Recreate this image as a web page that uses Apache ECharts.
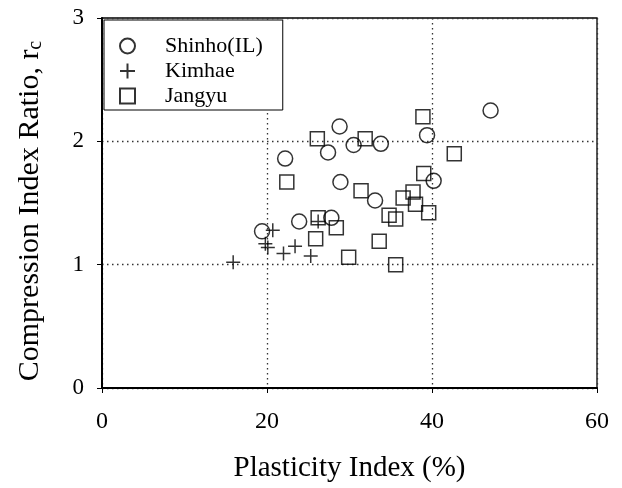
<!DOCTYPE html>
<html>
<head>
<meta charset="utf-8">
<script src="https://cdn.jsdelivr.net/npm/echarts@6/dist/echarts.min.js"></script>
<style>html,body{margin:0;padding:0;background:#fff}#c{width:622px;height:488px}</style>
</head>
<body>
<div id="c"></div>
<script>
var xTicks = [0, 20, 40, 60];
var yTicks = [0, 1, 2, 3];

var shinhoPI = [47.1, 28.8, 39.4, 30.5, 33.8, 27.4, 22.2, 28.9, 40.2, 33.1, 23.9, 27.8, 19.4];
var shinhoRc = [2.25, 2.12, 2.05, 1.97, 1.98, 1.91, 1.86, 1.67, 1.68, 1.52, 1.35, 1.38, 1.27];

var kimhaePI = [20.7, 19.8, 20.1, 22.0, 23.4, 25.3, 15.9, 26.2];
var kimhaeRc = [1.28, 1.17, 1.14, 1.09, 1.15, 1.07, 1.02, 1.35];

var jangyuPI = [38.9, 26.1, 31.9, 42.7, 22.4, 39.0, 31.4, 37.7, 36.5, 38.0, 39.6, 34.8, 35.6, 26.2, 28.4, 25.9, 33.6, 29.9, 35.6];
var jangyuRc = [2.20, 2.02, 2.02, 1.90, 1.67, 1.74, 1.60, 1.59, 1.54, 1.49, 1.42, 1.40, 1.37, 1.38, 1.30, 1.21, 1.19, 1.06, 1.00];

function pairs(xs, ys) { return xs.map(function (x, i) { return [x, ys[i]]; }); }

var FONT = '"Liberation Serif", "Times New Roman", serif';
var markStyle = { color: 'rgba(0,0,0,0)', borderColor: '#000', borderWidth: 1.5 };

var chart = echarts.init(document.getElementById('c'), null, { renderer: 'canvas' });
chart.setOption({
  animation: false,
  backgroundColor: '#fff',
  grid: { left: 102, right: 25, top: 18, bottom: 99, show: true, borderColor: '#000', borderWidth: 1.3, backgroundColor: 'transparent' },
  legend: {
    orient: 'vertical', left: 104, top: 20,
    backgroundColor: '#fff', borderColor: '#000', borderWidth: 1,
    padding: [15, 20, 3, 15],
    itemWidth: 15, itemHeight: 15, itemGap: 3,
    textStyle: { fontFamily: FONT, fontSize: 22, color: '#000', padding: [0, 0, 0, 25], lineHeight: 22 },
    data: ['Shinho(IL)', 'Kimhae', 'Jangyu']
  },
  xAxis: {
    type: 'value', min: xTicks[0], max: xTicks[xTicks.length - 1], interval: 20,
    name: 'Plasticity Index (%)', nameLocation: 'middle', nameGap: 66,
    nameTextStyle: { fontFamily: FONT, fontSize: 29, color: '#000' },
    axisLine: { lineStyle: { color: '#000', width: 2 } },
    axisTick: { show: true, inside: false, length: 5, lineStyle: { color: '#000', width: 1 } },
    axisLabel: { fontFamily: FONT, fontSize: 24, color: '#000', margin: 22 },
    splitLine: { show: true, lineStyle: { color: '#333', type: [1.5, 3.5], width: 1.3 } }
  },
  yAxis: {
    type: 'value', min: yTicks[0], max: yTicks[yTicks.length - 1], interval: 1,
    name: 'Compression Index Ratio, r{sub|c}', nameLocation: 'middle', nameGap: 56,
    nameTextStyle: { fontFamily: FONT, fontSize: 30, color: '#000', padding: [0, 16, 0, 0],
      rich: { sub: { fontFamily: FONT, fontSize: 20, color: '#000', verticalAlign: 'bottom', padding: [12, 0, 0, 0] } } },
    axisLine: { lineStyle: { color: '#000', width: 2 } },
    axisTick: { show: true, inside: false, length: 5, lineStyle: { color: '#000', width: 1 } },
    axisLabel: { fontFamily: FONT, fontSize: 23, color: '#000', margin: 18 },
    splitLine: { show: true, lineStyle: { color: '#333', type: [1.5, 3.5], width: 1.3 } }
  },
  series: [
    { name: 'Shinho(IL)', type: 'scatter', symbol: 'circle', symbolSize: 15, itemStyle: markStyle, data: pairs(shinhoPI, shinhoRc) },
    { name: 'Kimhae', type: 'scatter', symbol: 'path://M0,7L14,7M7,0L7,14', symbolSize: 14, itemStyle: { color: 'rgba(0,0,0,0)', borderColor: '#000', borderWidth: 1.5 }, data: pairs(kimhaePI, kimhaeRc) },
    { name: 'Jangyu', type: 'scatter', symbol: 'rect', symbolSize: 14, itemStyle: markStyle, data: pairs(jangyuPI, jangyuRc) }
  ]
});
</script>
</body>
</html>
